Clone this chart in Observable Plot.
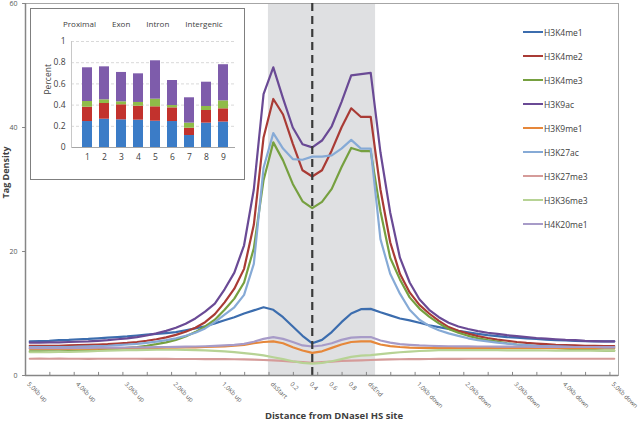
<!DOCTYPE html>
<html><head><meta charset="utf-8">
<script src="https://cdn.jsdelivr.net/npm/d3@7"></script>
<script src="https://cdn.jsdelivr.net/npm/@observablehq/plot@0.6"></script>
<style>
body{margin:0;background:#fff;}
#wrap{position:relative;width:641px;height:423px;font-family:"Open Sans",sans-serif;}
#inset{position:absolute;left:30px;top:8px;width:213px;height:170px;border:1px solid #7f7f7f;background:#fff;}
#insetLegend{position:absolute;left:32px;top:9px;display:flex;gap:16px;font-size:8px;color:#404040;white-space:nowrap;}
#legend{position:absolute;left:523px;top:20px;font-size:8.5px;color:#404040;}
.row{height:24px;display:flex;align-items:center;white-space:nowrap;}
.sw{width:20px;height:2.5px;margin-right:1px;}
</style></head><body><div id="wrap"></div>
<script>
// ---- main chart data ----
const seriesNames = ["H3K4me1","H3K4me2","H3K4me3","H3K9ac","H3K9me1","H3K27ac","H3K27me3","H3K36me3","H4K20me1"];
const seriesColors = ["#3c6dae","#a93b35","#76a040","#6a4a95","#e6873a","#86aad6","#d59b99","#b7d395","#a79bc8"];

const tickLabels = ["5.0Kb up","4.0Kb up","3.0Kb up","2.0Kb up","1.0Kb up","dsStart","0.2","0.4","0.6","0.8","dsEnd","1.0Kb down","2.0Kb down","3.0Kb down","4.0Kb down","5.0Kb down"];
const tickLabelIndex = [0,5,10,15,20,25,27,29,31,33,35,40,45,50,55,60];
const bodyBand = [24.5, 35.5];   // DNaseI HS body (dsStart..dsEnd)
const summitIndex = 29;          // dashed line
const yTicks = [0, 20, 40, 60];

const H3K4me1 = [5.5,5.55,5.6,5.7,5.75,5.85,5.9,6.0,6.1,6.2, 6.3,6.45,6.6,6.7,6.85,7.0,7.3,7.6,7.95,8.4, 8.9,9.4,10.0,10.5,11.0,10.6,9.4,7.9,6.4,5.2, 5.75,7.0,8.6,10.0,10.7,10.75,10.2,9.7,9.2,8.9, 8.5,8.1,7.8,7.5,7.2,6.95,6.7,6.5,6.35,6.2, 6.1,6.0,5.9,5.8,5.7,5.65,5.6,5.55,5.5,5.5,5.5];
const H3K4me2 = [4.8,4.8,4.8,4.8,4.85,4.9,4.95,5.0,5.05,5.15, 5.25,5.4,5.6,5.85,6.15,6.55,7.05,7.7,8.6,9.9, 11.8,14.0,17.2,24.3,38.4,44.6,42.1,37.4,33.1,32.1, 33.1,36.3,40.0,43.1,41.7,41.7,30.0,21.5,16.4,13.4, 11.4,10.0,8.8,7.8,7.2,6.75,6.35,6.05,5.8,5.6, 5.4,5.25,5.15,5.05,4.95,4.9,4.85,4.8,4.8,4.75,4.75];
const H3K4me3 = [3.9,3.9,3.9,3.9,3.95,4.0,4.05,4.1,4.2,4.3, 4.45,4.6,4.8,5.05,5.35,5.75,6.3,7.0,7.9,9.0, 10.6,12.4,15.0,20.5,31.5,37.6,34.7,30.9,28.1,27.0, 28.0,30.1,33.6,36.7,36.2,36.2,26.5,19.0,15.5,12.6, 10.8,9.5,8.4,7.5,6.9,6.4,6.0,5.7,5.45,5.2, 5.0,4.85,4.7,4.55,4.45,4.35,4.25,4.15,4.1,4.0,4.0];
const H3K9ac = [5.3,5.3,5.35,5.35,5.4,5.45,5.5,5.6,5.7,5.85, 6.0,6.2,6.45,6.8,7.2,7.7,8.35,9.2,10.3,11.6, 13.9,16.6,21.0,30.0,45.4,49.7,44.7,40.0,37.3,36.8, 37.9,40.2,44.1,48.4,48.6,48.8,36.0,26.3,19.0,15.0, 12.3,10.6,9.4,8.5,7.9,7.5,7.15,6.9,6.7,6.5, 6.35,6.2,6.05,5.95,5.85,5.75,5.7,5.6,5.55,5.5,5.5];
const H3K9me1 = [4.3,4.3,4.3,4.3,4.3,4.32,4.35,4.35,4.38,4.4, 4.4,4.42,4.45,4.45,4.48,4.5,4.52,4.55,4.6,4.65, 4.7,4.8,4.95,5.2,5.4,5.5,5.2,4.57,4.03,3.65, 3.9,4.46,5.0,5.4,5.5,5.5,5.0,4.75,4.6,4.5, 4.45,4.45,4.42,4.42,4.42,4.42,4.42,4.4,4.4,4.4, 4.4,4.4,4.4,4.4,4.4,4.4,4.4,4.4,4.4,4.4,4.4];
const H3K27ac = [4.6,4.6,4.6,4.6,4.6,4.65,4.7,4.75,4.8,4.9, 5.0,5.1,5.25,5.45,5.7,6.0,6.4,6.9,7.6,8.6, 9.8,11.0,13.0,18.0,33.5,39.1,36.6,34.9,34.8,35.3, 35.3,35.5,36.6,38.0,36.6,36.6,22.0,16.4,13.2,10.6, 9.0,8.0,7.3,6.8,6.4,6.0,5.7,5.5,5.3,5.15, 5.0,4.9,4.8,4.75,4.7,4.65,4.6,4.6,4.6,4.55,4.55];
const H3K27me3 = [2.7,2.72,2.7,2.72,2.7,2.7,2.68,2.7,2.7,2.7, 2.7,2.7,2.68,2.68,2.68,2.66,2.66,2.66,2.65,2.65, 2.65,2.62,2.6,2.55,2.5,2.45,2.35,2.25,2.15,2.05, 2.15,2.25,2.35,2.4,2.45,2.5,2.55,2.6,2.62,2.65, 2.65,2.66,2.68,2.68,2.68,2.7,2.7,2.7,2.7,2.7, 2.7,2.7,2.7,2.7,2.7,2.7,2.7,2.7,2.7,2.7,2.7];
const H3K36me3 = [3.75,3.75,3.78,3.8,3.82,3.85,3.9,3.95,4.0,4.05, 4.1,4.1,4.12,4.15,4.15,4.15,4.12,4.1,4.05,3.98, 3.9,3.78,3.62,3.45,3.25,2.95,2.65,2.3,2.05,1.9, 2.05,2.3,2.65,3.0,3.2,3.3,3.45,3.6,3.75,3.85, 3.95,4.02,4.08,4.1,4.1,4.1,4.1,4.08,4.08,4.06, 4.05,4.05,4.04,4.03,4.02,4.0,4.0,4.0,4.0,4.0,4.0];
const H4K20me1 = [4.4,4.4,4.4,4.42,4.42,4.45,4.45,4.48,4.5,4.5, 4.52,4.55,4.55,4.58,4.6,4.62,4.65,4.68,4.72,4.78, 4.85,4.95,5.1,5.45,5.9,6.2,5.9,5.4,4.85,4.68, 4.84,5.2,5.75,6.1,6.2,6.2,5.65,5.3,5.05,4.95, 4.85,4.8,4.75,4.72,4.7,4.7,4.68,4.68,4.66,4.65, 4.65,4.64,4.63,4.62,4.62,4.6,4.6,4.6,4.6,4.6,4.6];
const seriesValues = [H3K4me1,H3K4me2,H3K4me3,H3K9ac,H3K9me1,H3K27ac,H3K27me3,H3K36me3,H4K20me1];

// ---- inset data ----
const insetCats = ["1","2","3","4","5","6","7","8","9"];
const regionNames = ["Proximal","Exon","Intron","Intergenic"];
const regionColors = ["#3b7cc7","#c2322d","#8fbc48","#7e5cab"];
const Proximal   = [0.245,0.267,0.261,0.258,0.248,0.245,0.113,0.230,0.240];
const Exon       = [0.135,0.148,0.142,0.132,0.136,0.129,0.069,0.119,0.125];
const Intron     = [0.054,0.035,0.028,0.035,0.072,0.022,0.048,0.038,0.075];
const Intergenic = [0.318,0.311,0.277,0.270,0.362,0.236,0.239,0.229,0.341];
const regionValues = [Proximal, Exon, Intron, Intergenic];
const insetYTicks = [0, 0.2, 0.4, 0.6, 0.8, 1];

// ---- build tidy tables ----
const lineData = [];
seriesNames.forEach((s, j) => seriesValues[j].forEach((v, k) => lineData.push({series: s, k, value: v})));
const barData = [];
insetCats.forEach((c, i) => regionNames.forEach((r, j) => barData.push({cat: c, region: r, value: regionValues[j][i]})));

const xDomain = [-0.44, 60.44];
const tickPositions = d3.range(xDomain[0], xDomain[1] + 0.01, 2.5);
const axisGray = "#868686";

const chart = Plot.plot({
  width: 641, height: 423,
  marginLeft: 25, marginRight: 23, marginTop: 3, marginBottom: 48,
  x: {domain: xDomain, axis: null},
  y: {domain: [0, 60], axis: null},
  color: {domain: seriesNames, range: seriesColors},
  style: {fontFamily: "Open Sans, sans-serif", background: "white"},
  marks: [
    Plot.rect([bodyBand], {x1: d => d[0], x2: d => d[1], y1: 0, y2: 60, fill: "#dfe0e2"}),
    Plot.frame({stroke: "#a6a6a6"}),
    Plot.line(lineData, {x: "k", y: "value", z: "series", stroke: "series", strokeWidth: 2.2}),
    Plot.ruleX([summitIndex], {stroke: "#3a3a3a", strokeWidth: 2.2, strokeDasharray: "8,5"}),
    Plot.ruleY([0], {stroke: axisGray, strokeWidth: 1.5}),
    Plot.ruleX([xDomain[0]], {stroke: axisGray, strokeWidth: 1.5}),
    Plot.ruleX(tickPositions, {y1: 0, y2: 0.5, stroke: axisGray}),
    Plot.ruleY(yTicks, {x1: xDomain[0] - 0.3, x2: xDomain[0], stroke: axisGray}),
    Plot.text(yTicks, {x: xDomain[0], y: d => d, text: d => String(d), textAnchor: "end", dx: -8, fontSize: 7, fill: "#595959"}),
    Plot.text(tickLabels, {x: (d, i) => tickLabelIndex[i], frameAnchor: "bottom", text: d => d, rotate: 45, textAnchor: "start", dx: -3, dy: 9, fontSize: 6.2, fill: "#595959"}),
    Plot.text(["Tag Density"], {frameAnchor: "left", text: d => d, rotate: -90, dx: -19, dy: 9, fontSize: 9, fontWeight: "bold", fill: "#404040"}),
    Plot.text(["Distance from DNaseI HS site"], {frameAnchor: "bottom", text: d => d, dx: 12, dy: 43, fontSize: 9.5, fontWeight: "bold", fill: "#404040"})
  ]
});

const wrap = document.getElementById("wrap");
wrap.appendChild(chart);

// legend
const legend = document.createElement("div");
legend.id = "legend";
seriesNames.forEach((s, i) => {
  const row = document.createElement("div");
  row.className = "row";
  const sw = document.createElement("span");
  sw.className = "sw";
  sw.style.background = seriesColors[i];
  const t = document.createElement("span");
  t.textContent = s;
  row.appendChild(sw); row.appendChild(t);
  legend.appendChild(row);
});
wrap.appendChild(legend);

// inset
const insetBox = document.createElement("div");
insetBox.id = "inset";
const inset = Plot.plot({
  width: 213, height: 170,
  marginLeft: 40, marginRight: 9, marginTop: 32, marginBottom: 32,
  x: {type: "band", domain: insetCats, range: [45, 203.5], paddingInner: 0.43, paddingOuter: 0.215, axis: null},
  y: {domain: [0, 1], axis: null},
  color: {domain: regionNames, range: regionColors},
  style: {fontFamily: "Open Sans, sans-serif", background: "white"},
  marks: [
    Plot.ruleY(insetYTicks.slice(1), {stroke: "#d9d9d9", strokeDasharray: "3,2"}),
    Plot.barY(barData, {x: "cat", y: "value", fill: "region"}),
    Plot.ruleY([0], {stroke: "#a6a6a6"}),
    Plot.frame({anchor: "left", stroke: "#c8c8c8"}),
    Plot.text(insetYTicks, {frameAnchor: "left", y: d => d, text: d => String(d), textAnchor: "end", dx: -6, fontSize: 8.5, fill: "#404040"}),
    Plot.text(insetCats, {x: d => d, frameAnchor: "bottom", text: d => d, dy: 12, fontSize: 8.5, fill: "#404040"}),
    Plot.text(["Percent"], {frameAnchor: "left", text: d => d, rotate: -90, dx: -23, fontSize: 8.5, fill: "#404040"})
  ]
});
insetBox.appendChild(inset);
const il = document.createElement("div");
il.id = "insetLegend";
regionNames.forEach(r => { const s = document.createElement("span"); s.textContent = r; il.appendChild(s); });
insetBox.appendChild(il);
wrap.appendChild(insetBox);
</script></body></html>
